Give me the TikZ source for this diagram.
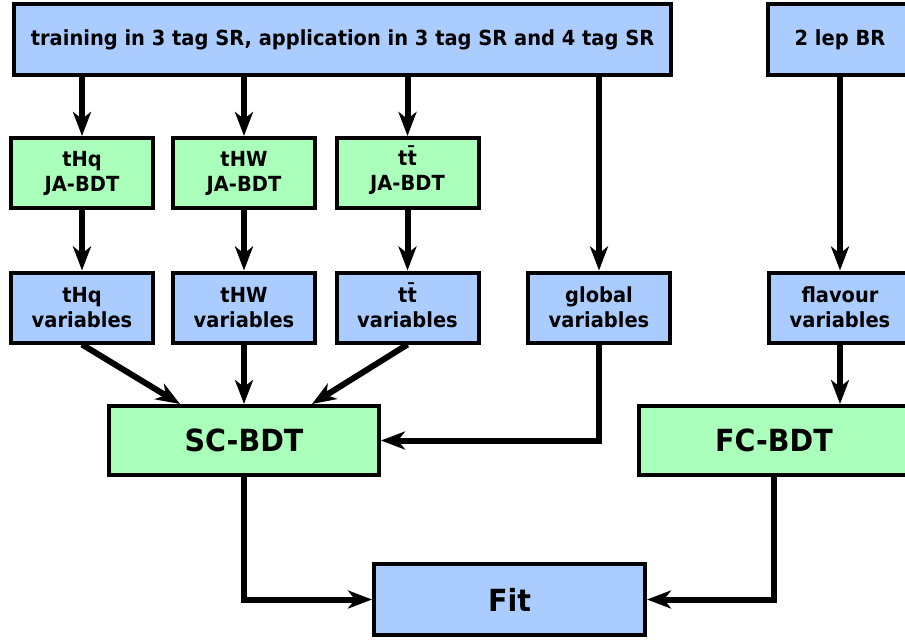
\documentclass[tikz,border=0pt]{standalone}
\usepackage{fontspec}
\setmainfont{DejaVu Sans}[FakeStretch=0.935]
\usepackage{tikz}
\usetikzlibrary{arrows.meta}
\definecolor{boxblue}{RGB}{170,204,255}
\definecolor{boxgreen}{RGB}{170,255,187}
\newcommand{\ttbar}{t\smash{\={t}}}
\tikzset{
 box/.style={draw=black, line width=4, align=center, inner sep=0, font=\bfseries\fontsize{20.8}{25}\selectfont},
 bluebox/.style={box, fill=boxblue},
 greenbox/.style={box, fill=boxgreen},
 bigbox/.style={minimum width=270, minimum height=69, font=\bfseries\fontsize{30.5}{36}\selectfont},
 smallbox/.style={minimum width=142, minimum height=70},
 arr/.style={line width=6, -{Stealth[length=24pt,width=18pt,inset=7pt]}},
}

\begin{document}
\begin{tikzpicture} [x=1pt,y=-1pt]
\useasboundingbox (0,0) rectangle (905,641);
\clip (0,0) rectangle (905,641);
% inputs
\node[bluebox, minimum width=657, minimum height=71] (top) at (342.5,39.5) {training in 3 tag SR, application in 3 tag SR and 4 tag SR};
\node[bluebox, minimum width=144, minimum height=71] (lep) at (840,39.5) {2 lep BR};
% JA-BDTs and their variables
\node[greenbox, smallbox] (jaq) at (82,173) {tHq\\JA-BDT};
\node[greenbox, smallbox] (jaw) at (244,173) {tHW\\JA-BDT};
\node[greenbox, smallbox] (jat) at (407.5,173) {\ttbar\\JA-BDT};
\node[bluebox, smallbox] (varq) at (82,307.5) {tHq\\variables};
\node[bluebox, smallbox] (varw) at (244,307.5) {tHW\\variables};
\node[bluebox, smallbox] (vart) at (407.5,307.5) {\ttbar\\variables};
\node[bluebox, smallbox] (varg) at (599,307.5) {global\\variables};
\node[bluebox, smallbox] (varf) at (840,307.5) {flavour\\variables};
% classifiers and fit
\node[greenbox, bigbox] (sc) at (244,440.5) {SC-BDT};
\node[greenbox, bigbox] (fc) at (774,440.5) {FC-BDT};
\node[bluebox, bigbox, minimum width=271, minimum height=71] (fit) at (509.5,599.5) {Fit};
\foreach \n in {jaq,jaw,jat,varg}
 \draw[arr] (top.south -| \n.north) -- (\n.north);
\draw[arr] (lep.south) -- (varf.north);
\draw[arr] (jaq) -- (varq);
\draw[arr] (jaw) -- (varw);
\draw[arr] (jat) -- (vart);
\draw[arr] (varq.south) -- ([xshift=-64]sc.north);
\draw[arr] (varw.south) -- (sc.north);
\draw[arr] (vart.south) -- ([xshift=68]sc.north);
\draw[arr] (varg.south) |- (sc.east);
\draw[arr] (varf.south) -- (varf.south |- fc.north);
\draw[arr] (sc.south) |- (fit.west);
\draw[arr] (fc.south) |- (fit.east);
\end{tikzpicture}
\end{document}
